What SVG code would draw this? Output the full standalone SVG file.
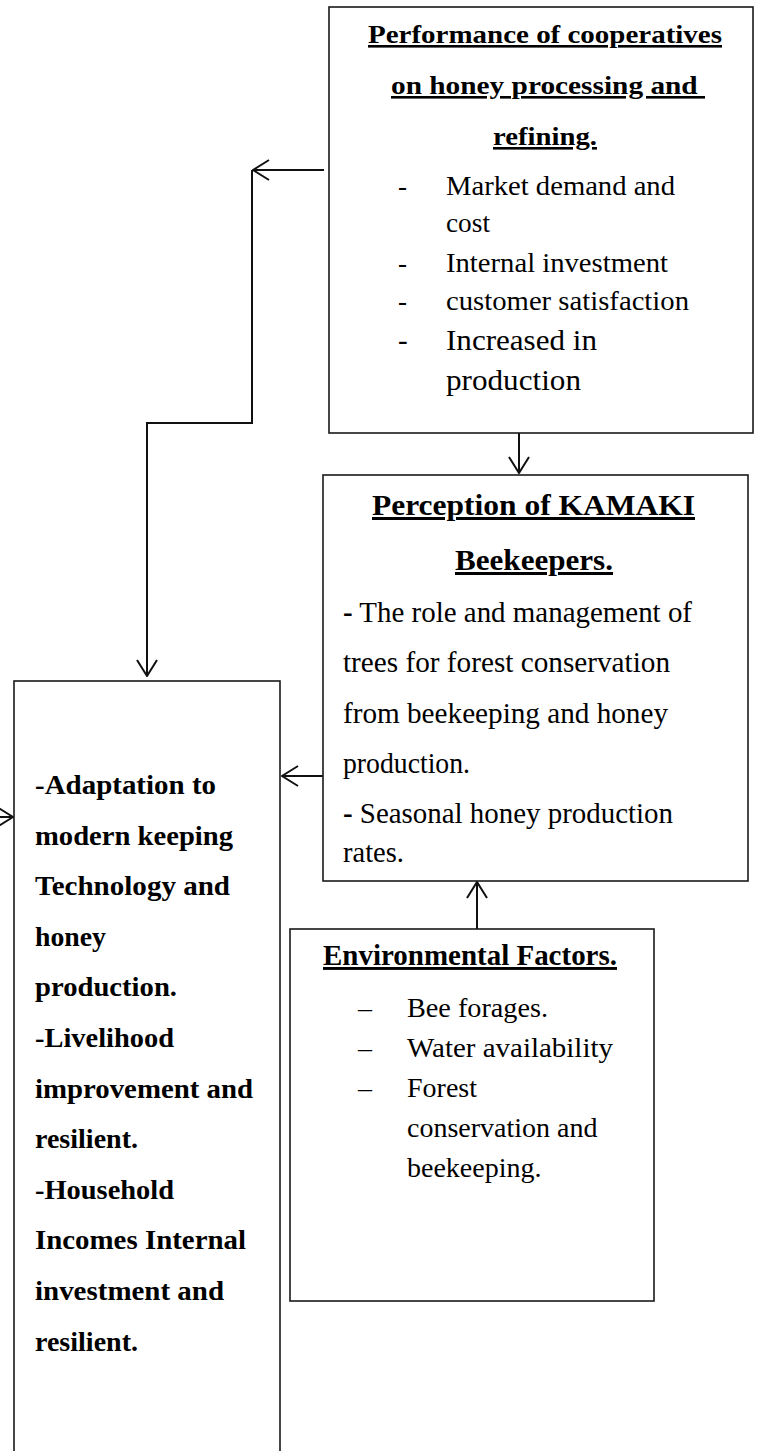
<svg xmlns="http://www.w3.org/2000/svg" width="757" height="1451" viewBox="0 0 757 1451">
<style>
.box{fill:#fff;stroke:#1a1a1a;stroke-width:1.6}
.con{fill:none;stroke:#111;stroke-width:2}
text{font-family:"Liberation Serif","Times New Roman",serif;fill:#000}
.t{font-weight:bold;text-decoration:underline}
.b{font-weight:bold}
</style>
<defs>
<marker id="ah" markerUnits="userSpaceOnUse" viewBox="0 0 18 22" refX="17" refY="11" markerWidth="18" markerHeight="22" orient="auto">
<path d="M1,1 L17,11 L1,21" fill="none" stroke="#111" stroke-width="2"/>
</marker>
</defs>
<rect width="757" height="1451" fill="#fff"/>
<g id="connectors">
<line class="con" x1="324" y1="170" x2="253" y2="170" marker-end="url(#ah)"/>
<path class="con" d="M252,170 V423 H147 V676" marker-end="url(#ah)"/>
<line class="con" x1="519" y1="433" x2="519" y2="473" marker-end="url(#ah)"/>
<line class="con" x1="323" y1="776" x2="282" y2="776" marker-end="url(#ah)"/>
<line class="con" x1="477" y1="929" x2="477" y2="882" marker-end="url(#ah)"/>
<line class="con" x1="-10" y1="817" x2="13" y2="817" marker-end="url(#ah)"/>
</g>
<g id="performance">
<rect class="box" x="329" y="7" width="424" height="426"/>
<text class="t" x="368" y="43" font-size="26" textLength="354" lengthAdjust="spacingAndGlyphs">Performance of cooperatives</text>
<text class="t" x="391" y="94" font-size="26" textLength="314" lengthAdjust="spacingAndGlyphs" xml:space="preserve">on honey processing and </text>
<text class="t" x="493" y="145" font-size="26" textLength="104" lengthAdjust="spacingAndGlyphs">refining.</text>
<g font-size="27">
<text x="398" y="195">-</text>
<text x="446" y="195" textLength="229" lengthAdjust="spacingAndGlyphs">Market demand and</text>
<text x="446" y="232" textLength="44" lengthAdjust="spacingAndGlyphs">cost</text>
<text x="398" y="272">-</text>
<text x="446" y="272" textLength="222" lengthAdjust="spacingAndGlyphs">Internal investment</text>
<text x="398" y="310">-</text>
<text x="446" y="310" textLength="243" lengthAdjust="spacingAndGlyphs">customer satisfaction</text>
</g>
<g font-size="29">
<text x="398" y="350">-</text>
<text x="446" y="350" textLength="151" lengthAdjust="spacingAndGlyphs">Increased in</text>
<text x="446" y="390" textLength="135" lengthAdjust="spacingAndGlyphs">production</text>
</g>
</g>
<g id="perception">
<rect class="box" x="323" y="475" width="425" height="406"/>
<text class="t" x="372" y="515" font-size="30" textLength="323" lengthAdjust="spacingAndGlyphs">Perception of KAMAKI</text>
<text class="t" x="455" y="570" font-size="30" textLength="158" lengthAdjust="spacingAndGlyphs">Beekeepers.</text>
<g font-size="29">
<text x="343" y="622" textLength="349" lengthAdjust="spacingAndGlyphs"><tspan class="b">-</tspan> The role and management of</text>
<text x="343" y="672" textLength="327" lengthAdjust="spacingAndGlyphs">trees for forest conservation</text>
<text x="343" y="723" textLength="325" lengthAdjust="spacingAndGlyphs">from beekeeping and honey</text>
<text x="343" y="773" textLength="127" lengthAdjust="spacingAndGlyphs">production.</text>
<text x="343" y="823" textLength="330" lengthAdjust="spacingAndGlyphs"><tspan class="b">-</tspan> Seasonal honey production</text>
<text x="343" y="862" textLength="61" lengthAdjust="spacingAndGlyphs">rates.</text>
</g>
</g>
<g id="environmental">
<rect class="box" x="290" y="929" width="364" height="372"/>
<text class="t" x="323" y="965" font-size="29" textLength="294" lengthAdjust="spacingAndGlyphs">Environmental Factors.</text>
<g font-size="28">
<text x="358" y="1017">–</text>
<text x="407" y="1017" textLength="141" lengthAdjust="spacingAndGlyphs">Bee forages.</text>
<text x="358" y="1057">–</text>
<text x="407" y="1057" textLength="206" lengthAdjust="spacingAndGlyphs">Water availability</text>
<text x="358" y="1097">–</text>
<text x="407" y="1097">Forest</text>
<text x="407" y="1137">conservation and</text>
<text x="407" y="1177">beekeeping.</text>
</g>
</g>
<g id="outcomes">
<rect class="box" x="14" y="681" width="266" height="800"/>
<g class="b" font-size="27">
<text x="35" y="794" textLength="181" lengthAdjust="spacingAndGlyphs">-Adaptation to</text>
<text x="35" y="845" textLength="198" lengthAdjust="spacingAndGlyphs">modern keeping</text>
<text x="35" y="895" textLength="195" lengthAdjust="spacingAndGlyphs">Technology and</text>
<text x="35" y="946" textLength="71" lengthAdjust="spacingAndGlyphs">honey</text>
<text x="35" y="996" textLength="142" lengthAdjust="spacingAndGlyphs">production.</text>
<text x="35" y="1047" textLength="139" lengthAdjust="spacingAndGlyphs">-Livelihood</text>
<text x="35" y="1098" textLength="218" lengthAdjust="spacingAndGlyphs">improvement and</text>
<text x="35" y="1148" textLength="103" lengthAdjust="spacingAndGlyphs">resilient.</text>
<text x="35" y="1199" textLength="139" lengthAdjust="spacingAndGlyphs">-Household</text>
<text x="35" y="1249" textLength="211" lengthAdjust="spacingAndGlyphs">Incomes Internal</text>
<text x="35" y="1300" textLength="189" lengthAdjust="spacingAndGlyphs">investment and</text>
<text x="35" y="1351" textLength="103" lengthAdjust="spacingAndGlyphs">resilient.</text>
</g>
</g>
</svg>
